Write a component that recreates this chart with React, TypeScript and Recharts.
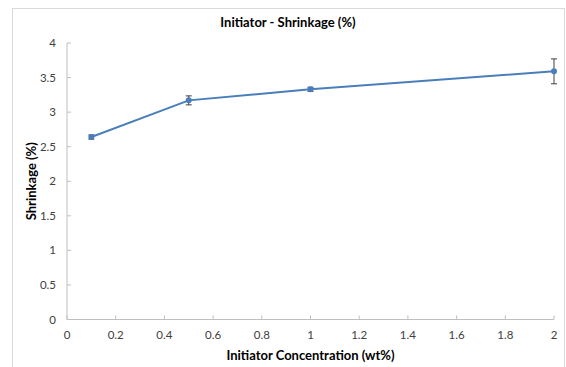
import { LineChart, Line, XAxis, YAxis, ErrorBar } from "recharts";

const concentration = [0.1, 0.5, 1, 2];
const shrinkage = [2.64, 3.17, 3.33, 3.59];
const shrinkageErr = [0.03, 0.065, 0.03, 0.18];
const xTicks = [0, 0.2, 0.4, 0.6, 0.8, 1, 1.2, 1.4, 1.6, 1.8, 2];
const yTicks = [0, 0.5, 1, 1.5, 2, 2.5, 3, 3.5, 4];

const data = concentration.map((c, i) => ({
  x: c,
  y: shrinkage[i],
  err: shrinkageErr[i],
}));

const font = "Lato, 'Open Sans', sans-serif";
const tickStyle = { fontSize: 11.5, fill: "#404040", fontFamily: font };
const axisStroke = "#BFBFBF";
const titleStyle = { fontSize: 13, fontWeight: 700, fontFamily: font, fill: "#000" };

export default function App() {
  return (
    <div style={{ position: "absolute", left: 0, top: 0, width: 566, height: 367, background: "#fff" }}>
      <div
        style={{
          position: "absolute",
          left: 12,
          top: 8,
          width: 551,
          height: 380,
          border: "1px solid #D9D9D9",
        }}
      />
      <LineChart
        width={566}
        height={367}
        data={data}
        margin={{ top: 43, right: 12, left: 0, bottom: 0 }}
        style={{ position: "absolute", left: 0, top: 0 }}
      >
        <text x={288} y={27} textAnchor="middle" style={titleStyle}>
          Initiator - Shrinkage (%)
        </text>
        <XAxis
          dataKey="x"
          type="number"
          domain={[0, 2]}
          ticks={xTicks}
          height={47.5}
          tick={tickStyle}
          tickSize={-4}
          tickMargin={15}
          stroke={axisStroke}
          label={{
            value: "Initiator Concentration (wt%)",
            position: "insideBottom",
            offset: 7,
            style: titleStyle,
          }}
        />
        <YAxis
          type="number"
          domain={[0, 4]}
          ticks={yTicks}
          width={67}
          tick={tickStyle}
          tickSize={-4}
          tickMargin={15}
          stroke={axisStroke}
          label={{
            value: "Shrinkage (%)",
            angle: -90,
            position: "insideLeft",
            offset: 31,
            style: { ...titleStyle, textAnchor: "middle" },
          }}
        />
        <Line
          dataKey="y"
          stroke="#4A7EBB"
          strokeWidth={2}
          isAnimationActive={false}
          dot={{ r: 2, fill: "#4A7EBB", stroke: "#4A7EBB" }}
        >
          <ErrorBar dataKey="err" width={3} stroke="#404040" strokeWidth={1} direction="y" />
        </Line>
      </LineChart>
    </div>
  );
}
